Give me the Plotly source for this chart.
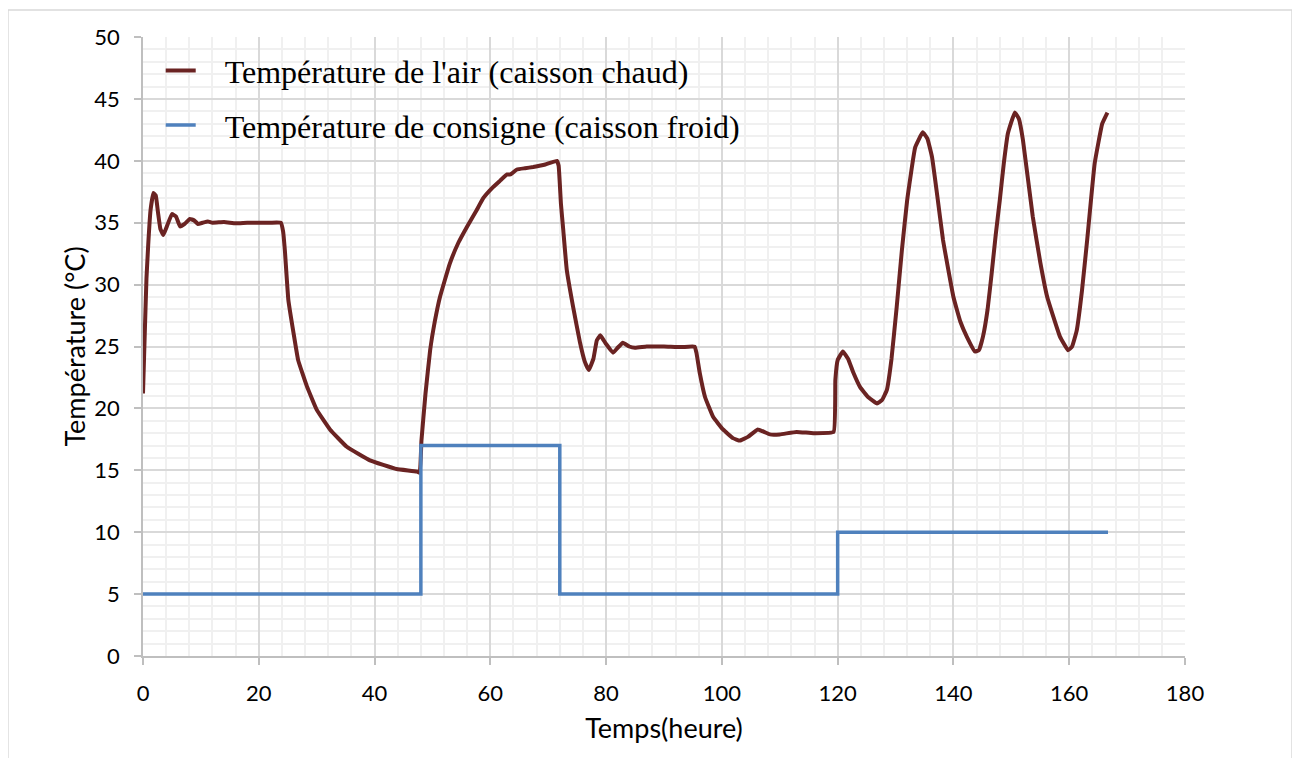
import plotly.graph_objects as go

# Hot box air temperature
hot_time = [0, 0.3, 0.6, 0.9, 1.3, 1.8, 2.2, 2.6, 3.0, 3.5, 4.2, 5.0, 5.7, 6.4, 7.2, 8.1, 8.8, 9.5,
            10.3, 11.2, 12, 14, 16, 18, 20, 22, 23.8, 24.2, 24.5, 25.1, 26.0, 26.8, 28.3, 30.0,
            32.3, 35.2, 39.2, 43.8, 47.3, 47.8, 48.1, 48.8, 49.6, 50.4, 51.3, 53.0, 54.5, 56.0,
            57.5, 58.8, 60.3, 61.7, 62.9, 63.5, 64.6, 66, 67.4, 69.5, 71.5, 71.8, 72.2, 72.6,
            73.2, 74.3, 75.5, 76.3, 77.0, 77.8, 78.4, 79.0, 80.0, 81.2, 82.0, 82.9, 84, 85, 87,
            90, 93, 95.3, 95.6, 96.2, 97.1, 98.5, 100.2, 101.9, 103.1, 104.5, 106.2, 108.3, 110,
            112.9, 115.8, 119.3, 119.6, 120.0, 120.9, 121.8, 122.7, 123.9, 125.3, 126.8, 127.7,
            128.5, 129.3, 130.2, 131.1, 132.0, 133.4, 134.7, 135.5, 136.3, 137.2, 138.2, 140.0,
            141.2, 142.3, 143.7, 144.4, 145.1, 145.9, 146.6, 147.3, 148.0, 148.7, 149.4, 150.6,
            151.3, 152.0, 153.7, 155.0, 156.2, 158.4, 159.8, 160.5, 161.3, 162.2, 163.1, 164.4,
            165.7, 166.6]
hot_temp = [21.2, 26.0, 30.5, 33.2, 36.0, 37.4, 37.2, 35.8, 34.5, 34.0, 34.8, 35.7, 35.5, 34.7,
            34.9, 35.3, 35.2, 34.9, 35.0, 35.1, 35.0, 35.05, 34.95, 35.0, 35.0, 35.0, 35.0, 34.3,
            32.8, 28.8, 26.1, 23.9, 21.8, 19.9, 18.3, 16.9, 15.8, 15.1, 14.9, 14.8, 17.4, 21.2,
            24.7, 27.0, 29.0, 31.7, 33.4, 34.7, 35.9, 37.0, 37.8, 38.4, 38.9, 38.9, 39.3, 39.4,
            39.5, 39.7, 40.0, 39.6, 36.5, 34.4, 31.2, 28.2, 25.3, 23.8, 23.1, 24.0, 25.5, 25.9,
            25.2, 24.5, 24.9, 25.3, 25.0, 24.9, 25.0, 25.0, 24.95, 25.0, 24.5, 22.8, 20.9, 19.3,
            18.3, 17.6, 17.4, 17.7, 18.3, 17.9, 17.9, 18.1, 18.0, 18.1, 22.3, 23.9, 24.6, 24.0,
            22.9, 21.7, 20.9, 20.4, 20.7, 21.5, 24.0, 28.2, 32.8, 36.8, 41.1, 42.3, 41.8, 40.3,
            37.2, 33.6, 29.0, 27.0, 25.8, 24.6, 24.7, 25.8, 28.0, 30.9, 34.0, 36.8, 39.8, 42.2,
            43.9, 43.4, 41.7, 35.5, 31.8, 29.0, 25.8, 24.7, 25.0, 26.3, 29.5, 33.6, 39.8, 43.0,
            43.9]

# Cold box set-point temperature
set_time = [0, 48, 48, 72, 72, 120, 120, 166.7]
set_temp = [5, 5, 17, 17, 5, 5, 10, 10]

x_ticks = [0, 20, 40, 60, 80, 100, 120, 140, 160, 180]
y_ticks = [0, 5, 10, 15, 20, 25, 30, 35, 40, 45, 50]

name_hot = "\u00a0\u00a0\u00a0Température de l'air (caisson chaud)"
name_set = "\u00a0\u00a0\u00a0Température de consigne (caisson froid)"

fig = go.Figure()
fig.add_trace(go.Scatter(x=hot_time, y=hot_temp, mode="lines", name=name_hot,
                         legendgroup="a",
                         line=dict(color="#6a2322", width=4, shape="spline", smoothing=0.3)))
fig.add_trace(go.Scatter(x=set_time, y=set_temp, mode="lines", name=name_set,
                         legendgroup="b",
                         line=dict(color="#4f81bd", width=3.5)))

grid_major = "#d9d9d9"
grid_minor = "#f0f0f0"
tick_font = dict(family="Lato", size=22, color="#000000")
title_font = dict(family="Lato", size=27, color="#000000")

fig.update_layout(
    width=1292, height=750,
    margin=dict(l=135, r=115, t=29, b=102),
    paper_bgcolor="white", plot_bgcolor="white",
    showlegend=True,
    legend=dict(x=0.017, y=0.99, xanchor="left", yanchor="top",
                bgcolor="rgba(0,0,0,0)", traceorder="grouped", tracegroupgap=10,
                font=dict(family="Liberation Serif", size=32, color="#000000")),
    xaxis=dict(range=[0, 180], tickvals=x_ticks, ticktext=[str(v) for v in x_ticks],
               showgrid=True, gridcolor=grid_major, gridwidth=1.5,
               minor=dict(dtick=4, showgrid=True, gridcolor=grid_minor, gridwidth=1.5),
               showline=True, linecolor="#bfbfbf", linewidth=1.5,
               ticks="outside", ticklen=7, tickcolor="#bfbfbf", tickwidth=1.5,
               tickfont=tick_font, ticklabelstandoff=10, zeroline=False,
               title=dict(text="Temps(heure)", font=title_font, standoff=14)),
    yaxis=dict(range=[0, 50], tickvals=y_ticks, ticktext=[str(v) for v in y_ticks],
               showgrid=True, gridcolor=grid_major, gridwidth=1.5,
               minor=dict(dtick=1, showgrid=True, gridcolor=grid_minor, gridwidth=1.5),
               showline=True, linecolor="#bfbfbf", linewidth=1.5,
               ticks="outside", ticklen=7, tickcolor="#bfbfbf", tickwidth=1.5,
               tickfont=tick_font, ticklabelstandoff=10, zeroline=False,
               title=dict(text="Température (°C)", font=title_font, standoff=1)),
    shapes=[dict(type="rect", xref="paper", yref="paper",
                 x0=-0.1296, x1=1.1027, y0=-0.2, y1=1.0436,
                 line=dict(color="#d9d9d9", width=1.5), layer="below")],
)

fig.write_html("out.html")
